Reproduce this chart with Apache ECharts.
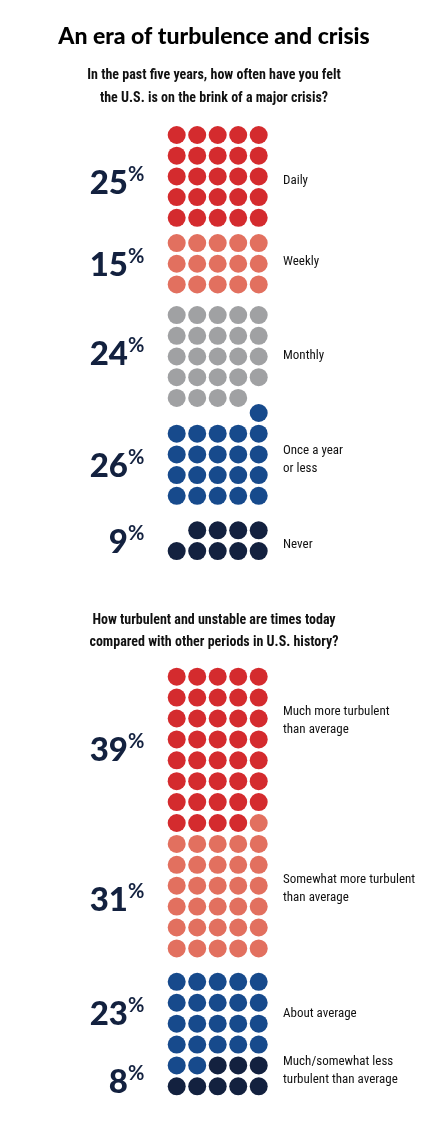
<!DOCTYPE html>
<html><head><meta charset="utf-8">
<script src="https://cdn.jsdelivr.net/npm/echarts@6/dist/echarts.min.js"></script>
<style>html,body{margin:0;padding:0;background:#fff}#c{width:428px;height:1136px}</style>
</head><body><div id="c"></div>
<script>
// Chart 1
const q1Categories = ['Daily','Weekly','Monthly','Once a year\nor less','Never'];
const q1Percent = [25,15,24,26,9];
const q1Dots = [25,15,24,21,9];
const q1Skip = [0,0,0,0,1]; // empty slots before group
// Chart 2
const q2Categories = ['Much more turbulent\nthan average','Somewhat more turbulent\nthan average','About average','Much/somewhat less\nturbulent than average'];
const q2Percent = [39,31,23,8];
const q2Dots = [39,31,22,8];
const q2Skip = [0,0,0,0];

const colors1 = ['#d42b2e','#e2705f','#a0a1a3','#174a8c','#13213f'];
const colors2 = ['#d42b2e','#e2705f','#174a8c','#13213f'];
const off1 = [0,0.22,0.70,1.43,2.1];
const off2 = [0,0,0.6,0.6];

function build(dots, skip, offs){
  const groups=[]; let idx=0;
  dots.forEach((n,g)=>{ idx+=skip[g]; const pts=[];
    for(let i=0;i<n;i++,idx++){ pts.push([idx%5, Math.floor(idx/5)+offs[g]]); }
    groups.push(pts);});
  return groups;
}
const g1=build(q1Dots,q1Skip,off1), g2=build(q2Dots,q2Skip,off2);
const series=[];
g1.forEach((d,i)=>series.push({type:'scatter',xAxisIndex:0,yAxisIndex:0,data:d,symbolSize:18,itemStyle:{color:colors1[i],opacity:1},silent:true,clip:false}));
g2.forEach((d,i)=>series.push({type:'scatter',xAxisIndex:1,yAxisIndex:1,data:d,symbolSize:18,itemStyle:{color:colors2[i],opacity:1},silent:true,clip:false}));

const FN='"Liberation Sans Narrow","Roboto Condensed","Open Sans",sans-serif';
const graphic=[];
function txt(x,y,s,style){graphic.push({type:'text',x:x,y:y,style:Object.assign({text:s,fill:'#111',font:'13px '+FN,textVerticalAlign:'middle'},style)});}
txt(214,37,'An era of turbulence and crisis',{font:'900 23px Lato, sans-serif',textAlign:'center',fill:'#000'});
txt(214,75,'In the past five years, how often have you felt',{font:'bold 14px '+FN,textAlign:'center'});
txt(214,98,'the U.S. is on the brink of a major crisis?',{font:'bold 14px '+FN,textAlign:'center'});
txt(214,620,'How turbulent and unstable are times today',{font:'bold 14px '+FN,textAlign:'center'});
txt(214,642,'compared with other periods in U.S. history?',{font:'bold 14px '+FN,textAlign:'center'});

function pct(yc,v){
  graphic.push({type:'text',x:128,y:yc,style:{text:String(v),font:'900 33px Lato, sans-serif',fill:'#13213f',textAlign:'right',textVerticalAlign:'middle'}});
  graphic.push({type:'text',x:128,y:yc-8,style:{text:'%',font:'bold 20px Lato, sans-serif',fill:'#13213f',textAlign:'left',textVerticalAlign:'middle'}});
}
const p1Y=[183,265,354,466,542], l1Y=[181,262,356,460,545];
q1Percent.forEach((v,i)=>{pct(p1Y[i],v);});
q1Categories.forEach((c,i)=>txt(283,l1Y[i],c,{lineHeight:18}));
const p2Y=[750,900,1014,1082], l2Y=[721,889,1014,1071];
q2Percent.forEach((v,i)=>{pct(p2Y[i],v);});
q2Categories.forEach((c,i)=>txt(283,l2Y[i],c,{lineHeight:18}));

const ax={show:false,type:'value'};
const chart=echarts.init(document.getElementById('c'),null,{renderer:'canvas'});
chart.setOption({
  animation:false,
  grid:[{left:176.7,width:82,top:135,height:434.7},{left:176.7,width:82,top:676.7,height:438.9}],
  xAxis:[Object.assign({gridIndex:0,min:0,max:4},ax),Object.assign({gridIndex:1,min:0,max:4},ax)],
  yAxis:[Object.assign({gridIndex:0,min:0,max:21,inverse:true},ax),Object.assign({gridIndex:1,min:0,max:21,inverse:true},ax)],
  series:series,
  graphic:graphic
});
</script></body></html>
